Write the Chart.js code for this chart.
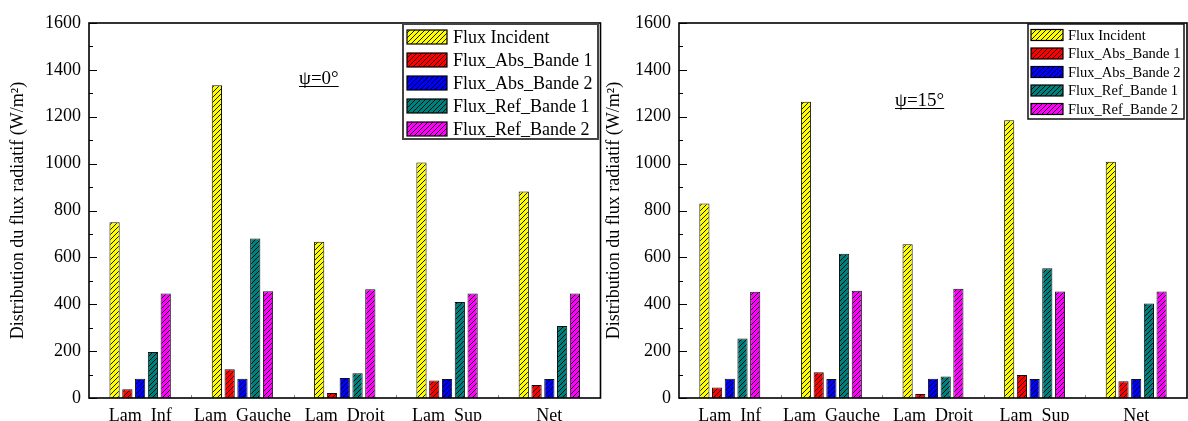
<!DOCTYPE html>
<html>
<head>
<meta charset="utf-8">
<script src="https://cdn.jsdelivr.net/npm/chart.js@4.4.1/dist/chart.umd.min.js"></script>
<style>
  html, body { margin: 0; padding: 0; background: #fff; width: 1188px; height: 421px; overflow: hidden; }
  canvas { position: absolute; top: 0; }
  #chartPsi0 { left: 0; }
  #chartPsi15 { left: 596px; }
</style>
</head>
<body>
<canvas id="chartPsi0" width="602" height="421"></canvas>
<canvas id="chartPsi15" width="592" height="421"></canvas>
<script>
// Surfaces of the collector
const categories = ['Lam  Inf', 'Lam  Gauche', 'Lam  Droit', 'Lam  Sup', 'Net'];

// Series names
const seriesNames = ['Flux Incident', 'Flux_Abs_Bande 1', 'Flux_Abs_Bande 2', 'Flux_Ref_Bande 1', 'Flux_Ref_Bande 2'];

// Radiative flux (W/m²), inclination ψ = 0°
const incident0 = [750, 1334, 667, 1005, 881];
const absBande1_0 = [37, 123, 21, 75, 56];
const absBande2_0 = [82, 82, 85, 81, 81];
const refBande1_0 = [196, 681, 106, 410, 307];
const refBande2_0 = [446, 456, 464, 446, 446];

// Radiative flux (W/m²), inclination ψ = 15°
const incident15 = [830, 1264, 656, 1185, 1008];
const absBande1_15 = [45, 110, 17, 98, 71];
const absBande2_15 = [82, 81, 82, 81, 81];
const refBande1_15 = [254, 616, 92, 554, 403];
const refBande2_15 = [453, 458, 466, 454, 454];

// Y axis tick labels
const yTickValues = [0, 200, 400, 600, 800, 1000, 1200, 1400, 1600];

const seriesColors = ['#ffff00', '#ff0000', '#0000ff', '#00807c', '#ff00ff'];
const SERIF = '"Liberation Serif", "Times New Roman", serif';

// Diagonal "/" hatching over a solid fill
function hatch(color) {
  const s = 5;
  const c = document.createElement('canvas');
  c.width = s; c.height = s;
  const g = c.getContext('2d');
  g.fillStyle = color;
  g.fillRect(0, 0, s, s);
  g.strokeStyle = '#000';
  g.lineWidth = 0.9;
  g.beginPath();
  g.moveTo(-1, s + 1); g.lineTo(s + 1, -1);
  g.moveTo(-1, 1); g.lineTo(1, -1);
  g.moveTo(s - 1, s + 1); g.lineTo(s + 1, s - 1);
  g.stroke();
  return g.createPattern(c, 'repeat');
}

// Plot frame, inward y ticks and small category separators
const framePlugin = {
  id: 'frame',
  afterDraw(chart) {
    const { ctx, chartArea: a, scales } = chart;
    const y = scales.y, x = scales.x;
    ctx.save();
    ctx.strokeStyle = '#000';
    ctx.lineWidth = 1;
    const vals = yTickValues;
    ctx.beginPath();
    for (let i = 0; i < vals.length; i++) {
      const py = Math.round(y.getPixelForValue(vals[i])) + 0.5;
      ctx.moveTo(a.left, py); ctx.lineTo(a.left + 8, py);
      if (i < vals.length - 1) {
        const pm = Math.round(y.getPixelForValue((vals[i] + vals[i + 1]) / 2)) + 0.5;
        ctx.moveTo(a.left, pm); ctx.lineTo(a.left + 4, pm);
      }
    }
    ctx.stroke();
    ctx.strokeStyle = '#888';
    ctx.beginPath();
    for (let i = 0; i < categories.length - 1; i++) {
      const px = Math.round((x.getPixelForTick(i) + x.getPixelForTick(i + 1)) / 2) + 0.5;
      ctx.moveTo(px, a.bottom); ctx.lineTo(px, a.bottom - 3);
    }
    ctx.stroke();
    ctx.strokeStyle = '#000';
    ctx.lineWidth = 1.6;
    ctx.strokeRect(a.left, a.top, a.right - a.left, a.bottom - a.top);
    ctx.restore();
  }
};

// Boxed legend and angle label inside the plot
const notesPlugin = {
  id: 'notes',
  afterDraw(chart, args, o) {
    const ctx = chart.ctx;
    ctx.save();
    const L = o.legend;
    ctx.fillStyle = '#fff';
    ctx.fillRect(L.x, L.y, L.w, L.h);
    ctx.strokeStyle = L.borderColor;
    ctx.lineWidth = L.border;
    ctx.strokeRect(L.x, L.y, L.w, L.h);
    ctx.font = L.fontSize + 'px ' + SERIF;
    ctx.textBaseline = 'middle';
    ctx.textAlign = 'left';
    chart.data.datasets.forEach((ds, i) => {
      const cy = L.y + L.first + i * L.step;
      ctx.fillStyle = ds.backgroundColor;
      ctx.fillRect(L.sx, cy - L.sh / 2, L.sw, L.sh);
      ctx.strokeStyle = '#000';
      ctx.lineWidth = 1.2;
      ctx.strokeRect(L.sx, cy - L.sh / 2, L.sw, L.sh);
      ctx.fillStyle = '#000';
      ctx.fillText(ds.label, L.tx, cy + 1);
    });
    const T = o.tag;
    ctx.font = T.fontSize + 'px ' + SERIF;
    ctx.textBaseline = 'alphabetic';
    ctx.fillStyle = '#000';
    ctx.fillText(T.text, T.x, T.y);
    const w = ctx.measureText(T.text).width;
    ctx.strokeStyle = '#000';
    ctx.lineWidth = 1;
    ctx.beginPath();
    ctx.moveTo(T.x, T.y + 2.5); ctx.lineTo(T.x + w, T.y + 2.5);
    ctx.stroke();
    ctx.restore();
  }
};

function makeChart(id, series, yWidth, padRight, legend, tag) {
  const datasets = series.map((data, i) => ({
    label: seriesNames[i],
    data: data,
    backgroundColor: hatch(seriesColors[i]),
    borderColor: '#111',
    borderWidth: 1,
    categoryPercentage: 0.625,
    barPercentage: 0.8
  }));
  return new Chart(document.getElementById(id), {
    type: 'bar',
    data: { labels: categories, datasets },
    plugins: [framePlugin, notesPlugin],
    options: {
      responsive: false,
      animation: false,
      devicePixelRatio: 1,
      layout: { padding: { top: 23, right: padRight, bottom: 0, left: 0 } },
      plugins: {
        legend: { display: false },
        tooltip: { enabled: false },
        notes: { legend, tag }
      },
      scales: {
        x: {
          grid: { display: false, drawTicks: false },
          border: { display: false },
          ticks: {
            autoSkip: false, maxRotation: 0, padding: 7,
            color: '#000', font: { family: SERIF, size: 18 }
          },
          afterFit(s) { s.height = 23; }
        },
        y: {
          min: 0, max: 1600,
          grid: { display: false, drawTicks: false },
          border: { display: false },
          afterBuildTicks(s) { s.ticks = yTickValues.map(v => ({ value: v })); },
          ticks: {
            padding: 8, color: '#000', font: { family: SERIF, size: 18 },
            callback: v => String(v)
          },
          title: {
            display: true,
            text: 'Distribution du flux radiatif (W/m²)',
            color: '#000',
            font: { family: SERIF, size: 18 },
            padding: { top: 7, bottom: 0 }
          },
          afterFit(s) { s.width = yWidth; }
        }
      }
    }
  });
}

makeChart('chartPsi0',
  [incident0, absBande1_0, absBande2_0, refBande1_0, refBande2_0],
  89, 1.5,
  { x: 403, y: 24, w: 195, h: 115, first: 13, step: 23, sx: 407, sw: 40, sh: 14, tx: 453, fontSize: 18, border: 2, borderColor: '#444' },
  { text: 'ψ=0°', x: 299, y: 84, fontSize: 19 });

makeChart('chartPsi15',
  [incident15, absBande1_15, absBande2_15, refBande1_15, refBande2_15],
  83, 1,
  { x: 432, y: 24, w: 156, h: 95, first: 11, step: 18.5, sx: 435, sw: 32, sh: 11, tx: 472, fontSize: 14.5, border: 1.5, borderColor: '#111' },
  { text: 'ψ=15°', x: 299, y: 106, fontSize: 19 });
</script>
</body>
</html>
